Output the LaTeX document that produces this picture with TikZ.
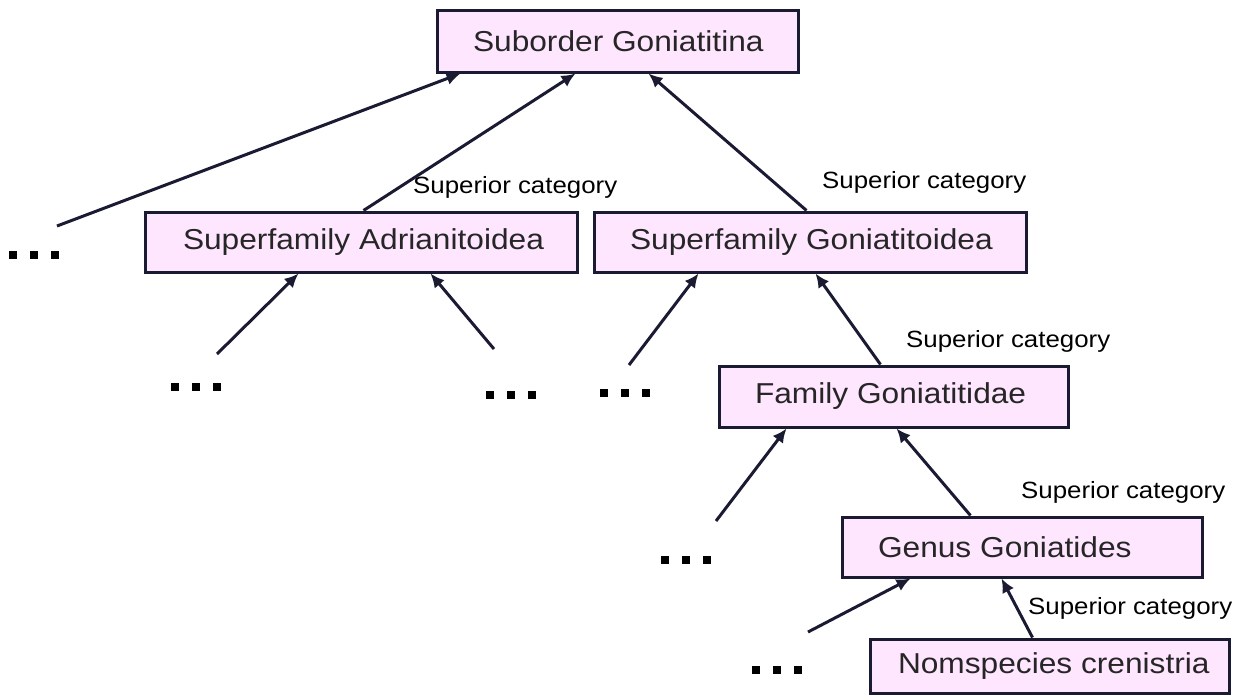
\documentclass[tikz,border=0pt]{standalone}
\usepackage{fontspec}
\setmainfont[FakeStretch=1.1]{Liberation Sans}
\usetikzlibrary{arrows.meta}
\definecolor{boxfill}{HTML}{FFE6FF}
\definecolor{boxline}{HTML}{1A1A33}
\newcommand{\dotsq}{\rule{8pt}{8pt}}
\begin{document}
\begin{tikzpicture}[x=1pt,y=-1pt,
  box/.style={draw=boxline,fill=boxfill,line width=3pt,inner xsep=0pt,inner ysep=0pt,font=\fontsize{28.8}{32}\selectfont,text=black!85},
  lbl/.style={anchor=west,inner sep=0pt,font=\fontsize{23.5}{27}\selectfont,text=black},
  dts/.style={inner sep=0pt},
  arr/.style={line width=3pt,draw=boxline,-{Latex[length=14pt,width=13pt]}}]
\useasboundingbox (0,0) rectangle (1248,696);
% boxes
\node[box,minimum width=361pt,minimum height=62pt] (sub) at (617.5,41) {\makebox[361pt][l]{\hspace{36pt}Suborder Goniatitina}};
\node[box,minimum width=432pt,minimum height=60pt] (adr) at (361,242) {\makebox[432pt][l]{\hspace{38pt}Superfamily Adrianitoidea}};
\node[box,minimum width=432pt,minimum height=60pt] (gon) at (810,242) {\makebox[432pt][l]{\hspace{36pt}Superfamily Goniatitoidea}};
\node[box,minimum width=349pt,minimum height=61pt] (fam) at (893.5,396.5) {\makebox[349pt][l]{\hspace{36pt}Family Goniatitidae}};
\node[box,minimum width=360pt,minimum height=60pt] (gen) at (1022,547) {\makebox[360pt][l]{\hspace{36pt}Genus Goniatides}};
\node[box,minimum width=359pt,minimum height=54pt] (nom) at (1049.5,666) {\makebox[359pt][l]{\hspace{28pt}Nomspecies crenistria}};
% labels
\node[lbl] (l1) at (413,187) {Superior category};
\node[lbl] (l2) at (822,182) {Superior category};
\node[lbl] (l3) at (906,341) {Superior category};
\node[lbl] (l4) at (1021,492) {Superior category};
\node[lbl] (l5) at (1028,608) {Superior category};
% dots
\node[dts] (d1) at (34,255) {\dotsq\hspace{13pt}\dotsq\hspace{13pt}\dotsq};
\node[dts] (d2) at (196,387) {\dotsq\hspace{13pt}\dotsq\hspace{13pt}\dotsq};
\node[dts] (d3) at (511,395) {\dotsq\hspace{13pt}\dotsq\hspace{13pt}\dotsq};
\node[dts] (d4) at (625,393) {\dotsq\hspace{13pt}\dotsq\hspace{13pt}\dotsq};
\node[dts] (d5) at (686,560) {\dotsq\hspace{13pt}\dotsq\hspace{13pt}\dotsq};
\node[dts] (d6) at (777,670) {\dotsq\hspace{13pt}\dotsq\hspace{13pt}\dotsq};
% free ends
\coordinate (c1) at (57,226);
\coordinate (c2) at (217,354);
\coordinate (c3) at (494,349);
\coordinate (c4) at (629,365);
\coordinate (c5) at (716,521);
\coordinate (c6) at (808,632);
% arrows
\draw[arr] (c1) -- ([xshift=25pt]sub.south west);
\draw[arr] ([xshift=220pt]adr.north west) -- ([xshift=140pt]sub.south west);
\draw[arr] ([xshift=214pt]gon.north west) -- ([xshift=213pt]sub.south west);
\draw[arr] (c2) -- ([xshift=155pt]adr.south west);
\draw[arr] (c3) -- ([xshift=287pt]adr.south west);
\draw[arr] (c4) -- ([xshift=106pt]gon.south west);
\draw[arr] ([xshift=163pt]fam.north west) -- ([xshift=223pt]gon.south west);
\draw[arr] (c5) -- ([xshift=69pt]fam.south west);
\draw[arr] ([xshift=130pt]gen.north west) -- ([xshift=179pt]fam.south west);
\draw[arr] (c6) -- ([xshift=70pt]gen.south west);
\draw[arr] ([xshift=164pt]nom.north west) -- ([xshift=161pt]gen.south west);
\end{tikzpicture}
\end{document}
